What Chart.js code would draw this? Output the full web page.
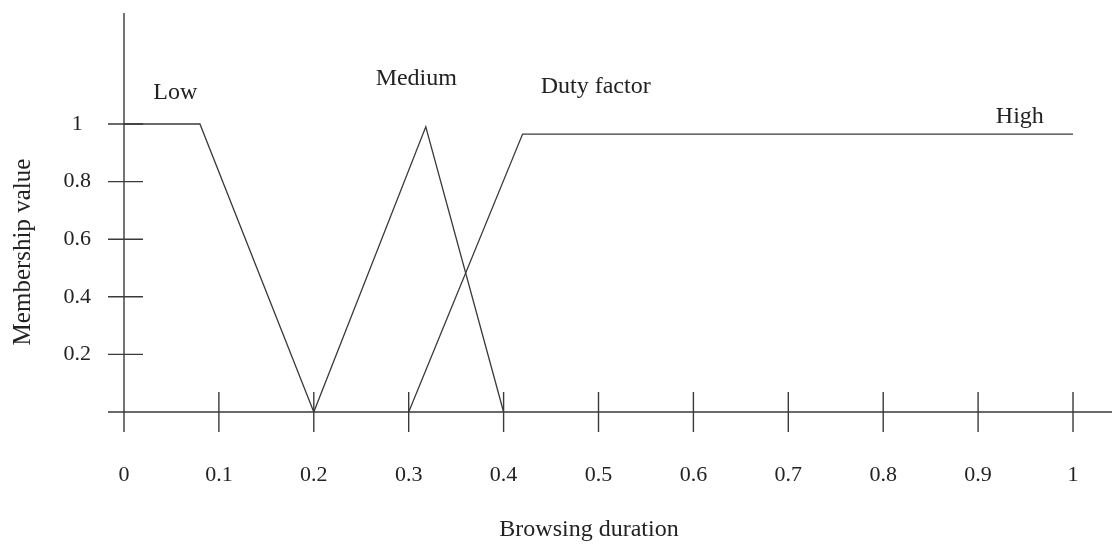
<!DOCTYPE html>
<html>
<head>
<meta charset="utf-8">
<script src="https://cdn.jsdelivr.net/npm/chart.js@4.4.1/dist/chart.umd.min.js"></script>
<style>
  html, body { margin: 0; padding: 0; background: #fff; }
  #wrap { width: 1115px; height: 547px; }
</style>
</head>
<body>
<div id="wrap"><canvas id="chart"></canvas></div>
<script>
// membership functions (x = browsing duration, y = membership value)
const lowX = [0, 0.08, 0.2];
const lowY = [1, 1, 0];
const mediumX = [0.2, 0.318, 0.4];
const mediumY = [0, 0.99, 0];
const highX = [0.3, 0.42, 1];
const highY = [0, 0.965, 0.965];

const xTickValues = [0, 0.1, 0.2, 0.3, 0.4, 0.5, 0.6, 0.7, 0.8, 0.9, 1];
const xTickLabels = ['0', '0.1', '0.2', '0.3', '0.4', '0.5', '0.6', '0.7', '0.8', '0.9', '1'];
const yTickValues = [0.2, 0.4, 0.6, 0.8, 1];
const yTickLabels = ['0.2', '0.4', '0.6', '0.8', '1'];

// curve names, placed in data units
const curveNames = ['Low', 'Medium', 'Duty factor', 'High'];
const nameX = [0.054, 0.308, 0.497, 0.944];
const nameY = [1.108, 1.156, 1.128, 1.024];

const xTitle = 'Browsing duration';

const INK = '#3a3a3a';
const SERIF = "'Liberation Serif', 'Times New Roman', serif";

function toPoints(xs, ys) {
    return xs.map((x, i) => ({ x, y: ys[i] }));
}

function lineSet(xs, ys) {
    return {
        data: toPoints(xs, ys),
        borderColor: INK,
        borderWidth: 1.3,
        pointRadius: 0,
        fill: false,
        tension: 0,
    };
}

// hand-drawn style axes: lines cross at the origin, ticks cross the axis
const axesPlugin = {
    id: 'axes',
    afterDraw(chart) {
        const { ctx, scales: { x, y } } = chart;
        const x0 = x.getPixelForValue(0);
        const y0 = y.getPixelForValue(0);
        ctx.save();
        ctx.strokeStyle = INK;
        ctx.lineWidth = 1.4;
        ctx.beginPath();
        ctx.moveTo(x.getPixelForValue(x.min), y0);
        ctx.lineTo(x.getPixelForValue(x.max), y0);
        ctx.moveTo(x0, y.getPixelForValue(y.min));
        ctx.lineTo(x0, y.getPixelForValue(1.385));
        for (const v of xTickValues) {
            const px = x.getPixelForValue(v);
            ctx.moveTo(px, y0 - 20);
            ctx.lineTo(px, y0 + 20);
        }
        for (const v of yTickValues) {
            const py = y.getPixelForValue(v);
            ctx.moveTo(x0 - 16, py);
            ctx.lineTo(x0 + 19, py);
        }
        ctx.stroke();

        ctx.fillStyle = '#222';
        ctx.font = `24px ${SERIF}`;
        ctx.textAlign = 'center';
        ctx.textBaseline = 'middle';
        curveNames.forEach((name, i) => {
            ctx.fillText(name, x.getPixelForValue(nameX[i]), y.getPixelForValue(nameY[i]));
        });

        // x axis title sits a little left of the plot centre
        ctx.fillText(xTitle, x.getPixelForValue(0.49), 530);
        ctx.restore();
    },
};

new Chart(document.getElementById('chart'), {
    type: 'line',
    data: {
        datasets: [
            lineSet(lowX, lowY),
            lineSet(mediumX, mediumY),
            lineSet(highX, highY),
        ],
    },
    options: {
        responsive: true,
        maintainAspectRatio: false,
        animation: false,
        layout: { padding: { left: 0, right: 3, top: 72, bottom: 0 } },
        plugins: {
            legend: { display: false },
            tooltip: { enabled: false },
        },
        scales: {
            x: {
                type: 'linear',
                min: -16 / 949,
                max: 1 + 39 / 949,
                grid: { display: false },
                border: { display: false },
                afterBuildTicks: s => { s.ticks = xTickValues.map(value => ({ value })); },
                afterFit: s => { s.height = 115; },
                ticks: {
                    color: '#222',
                    font: { family: SERIF, size: 22 },
                    padding: 22,
                    maxRotation: 0,
                    autoSkip: false,
                    callback: (v, i) => xTickLabels[i],
                },
            },
            y: {
                type: 'linear',
                min: -20 / 288,
                max: -20 / 288 + 360 / 288,
                grid: { display: false },
                border: { display: false },
                afterBuildTicks: s => { s.ticks = yTickValues.map(value => ({ value })); },
                afterFit: s => { s.width = 108; },
                ticks: {
                    color: '#222',
                    font: { family: SERIF, size: 22 },
                    padding: 9,
                    crossAlign: 'center',
                    autoSkip: false,
                    callback: (v, i) => yTickLabels[i],
                },
                title: {
                    display: true,
                    text: 'Membership value',
                    color: '#222',
                    font: { family: SERIF, size: 25 },
                    padding: { top: 8, bottom: 0 },
                },
            },
        },
    },
    plugins: [axesPlugin],
});
</script>
</body>
</html>
